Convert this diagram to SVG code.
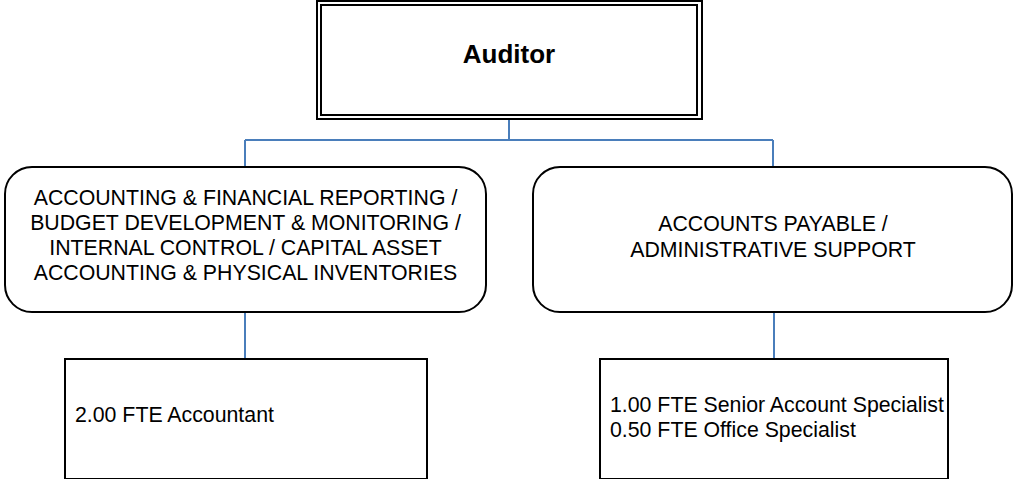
<svg xmlns="http://www.w3.org/2000/svg" width="1013" height="479" viewBox="0 0 1013 479">
<style>
  .box { fill: #ffffff; stroke: #000000; stroke-width: 2; }
  .thin { fill: none; stroke: #000000; stroke-width: 2; }
  .conn { fill: none; stroke: #4a7ebb; stroke-width: 2; }
  .t { font-family: "Liberation Sans", Arial, sans-serif; font-size: 21.3px; fill: #000000; }
  .c { text-anchor: middle; }
  .b { font-weight: bold; font-size: 26px; }
</style>
<rect width="1013" height="479" fill="#ffffff"/>
<g id="connectors">
  <path class="conn" d="M509 119 V140 M245 140 H773 M245 140 V167 M773 140 V167"/>
  <path class="conn" d="M245 312 V359"/>
  <path class="conn" d="M774 312 V359"/>
</g>
<g id="auditor">
  <rect class="box" x="317" y="1" width="385" height="118"/>
  <rect class="thin" x="321" y="5" width="376" height="110"/>
  <text class="t c b" x="509" y="63">Auditor</text>
</g>
<g id="accounting">
  <rect class="box" x="5" y="167" width="481" height="145" rx="27" ry="27"/>
  <text class="t c" x="245.5" y="205">ACCOUNTING &amp; FINANCIAL REPORTING /</text>
  <text class="t c" x="245.5" y="230">BUDGET DEVELOPMENT &amp; MONITORING /</text>
  <text class="t c" x="245.5" y="255">INTERNAL CONTROL / CAPITAL ASSET</text>
  <text class="t c" x="245.5" y="280">ACCOUNTING &amp; PHYSICAL INVENTORIES</text>
</g>
<g id="payable">
  <rect class="box" x="533" y="167" width="479" height="145" rx="27" ry="27"/>
  <text class="t c" x="773" y="231">ACCOUNTS PAYABLE /</text>
  <text class="t c" x="773" y="257">ADMINISTRATIVE SUPPORT</text>
</g>
<g id="accountant">
  <rect class="box" x="65" y="359" width="362" height="120"/>
  <text class="t" x="75" y="422">2.00 FTE Accountant</text>
</g>
<g id="specialists">
  <rect class="box" x="600" y="359" width="348" height="120"/>
  <text class="t" x="610" y="412">1.00 FTE Senior Account Specialist</text>
  <text class="t" x="610" y="437">0.50 FTE Office Specialist</text>
</g>
</svg>
